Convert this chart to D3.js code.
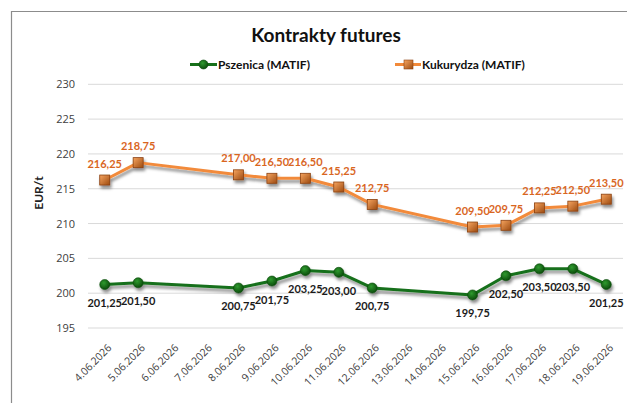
<!DOCTYPE html>
<html><head><meta charset="utf-8">
<script src="https://cdn.jsdelivr.net/npm/d3@7"></script>
<style>body{margin:0;background:#fff}svg{display:block}</style>
</head><body>
<svg id="c" width="627" height="403"></svg>
<script>
const dates = ["4.06.2026","5.06.2026","6.06.2026","7.06.2026","8.06.2026","9.06.2026","10.06.2026","11.06.2026","12.06.2026","13.06.2026","14.06.2026","15.06.2026","16.06.2026","17.06.2026","18.06.2026","19.06.2026"];
const tradeDates = ["4.06.2026","5.06.2026","8.06.2026","9.06.2026","10.06.2026","11.06.2026","12.06.2026","15.06.2026","16.06.2026","17.06.2026","18.06.2026","19.06.2026"];
const pszenica = [201.25,201.50,200.75,201.75,203.25,203.00,200.75,199.75,202.50,203.50,203.50,201.25];
const kukurydza = [216.25,218.75,217.00,216.50,216.50,215.25,212.75,209.50,209.75,212.25,212.50,213.50];
const yTicks = [195,200,205,210,215,220,225,230];
const seriesNames = ["Pszenica (MATIF)","Kukurydza (MATIF)"];

const svg = d3.select("#c");
const defs = svg.append("defs");
const f = defs.append("filter").attr("id","sh").attr("x","-10%").attr("y","-50%").attr("width","130%").attr("height","250%");
f.append("feDropShadow").attr("dx",1.5).attr("dy",3).attr("stdDeviation",1.6).attr("flood-color","#000").attr("flood-opacity",0.45);
const g1 = defs.append("linearGradient").attr("id","og").attr("x1",0).attr("y1",0).attr("x2",1).attr("y2",1);
g1.append("stop").attr("offset","0%").attr("stop-color","#f7a560");
g1.append("stop").attr("offset","100%").attr("stop-color","#9c4a10");
const g2 = defs.append("radialGradient").attr("id","gg").attr("cx","40%").attr("cy","35%").attr("r","65%");
g2.append("stop").attr("offset","0%").attr("stop-color","#2f9a2f");
g2.append("stop").attr("offset","100%").attr("stop-color","#0b4d0b");

// frame
svg.append("path").attr("d","M11.5,403 V11.5 H627").attr("fill","none").attr("stroke","#8c8c8c").attr("stroke-width",1.2);

const x = d3.scaleBand().domain(dates).range([88,623]);
const y = d3.scaleLinear().domain([195,230]).range([328,84.3]);
const cx = d => x(d) + x.bandwidth()/2;

// gridlines
svg.append("g").selectAll("line").data(yTicks).join("line")
  .attr("x1",88).attr("x2",623).attr("y1",d=>y(d)).attr("y2",d=>y(d))
  .attr("stroke","#d9d9d9").attr("stroke-width",1);

// y axis
const ya = svg.append("g").attr("transform","translate(88,0)")
  .call(d3.axisLeft(y).tickValues(yTicks).tickSize(0).tickPadding(13).tickFormat(d3.format("d")));
ya.select(".domain").remove();
ya.selectAll("text").attr("font-family","'Open Sans'").attr("font-size",11).attr("fill","#404040");

// x axis
const xa = svg.append("g").attr("transform","translate(0,336)")
  .call(d3.axisBottom(x).tickSize(0).tickPadding(0));
xa.select(".domain").remove();
xa.selectAll("text")
  .attr("font-family","'Open Sans'").attr("font-size",10.5).attr("fill","#404040")
  .attr("text-anchor","end").attr("y",0).attr("dy","0.35em")
  .attr("transform","translate(5,10) rotate(-45)");

// axis title
svg.append("text").attr("transform","translate(43,193) rotate(-90)").attr("text-anchor","middle")
  .attr("font-family","Lato").attr("font-weight","bold").attr("font-size",12).attr("fill","#222").text("EUR/t");

// title
svg.append("text").attr("x",326).attr("y",41.5).attr("text-anchor","middle")
  .attr("font-family","Lato").attr("font-weight","bold").attr("font-size",19).attr("fill","#111").text("Kontrakty futures");

const line = d3.line().x((d,i)=>cx(tradeDates[i])).y(d=>y(d));

function drawSeries(vals, color, markerType, labelColor, labelDy){
  const gg = svg.append("g").attr("filter","url(#sh)");
  gg.append("path").datum(vals).attr("d",line).attr("fill","none").attr("stroke",color).attr("stroke-width",3).attr("stroke-linejoin","round");
  if(markerType==="sq"){
    gg.selectAll("rect").data(vals).join("rect")
      .attr("x",(d,i)=>cx(tradeDates[i])-5).attr("y",d=>y(d)-5).attr("width",10).attr("height",10)
      .attr("fill","url(#og)").attr("stroke","#8a4010").attr("stroke-width",0.8);
  } else {
    gg.selectAll("circle").data(vals).join("circle")
      .attr("cx",(d,i)=>cx(tradeDates[i])).attr("cy",d=>y(d)).attr("r",5)
      .attr("fill","url(#gg)").attr("stroke","#0a4a0a").attr("stroke-width",0.6);
  }
  svg.append("g").selectAll("text").data(vals).join("text")
    .attr("x",(d,i)=>cx(tradeDates[i])).attr("y",d=>y(d)+labelDy).attr("text-anchor","middle")
    .attr("font-family","Lato").attr("font-weight","bold").attr("font-size",11).attr("fill",labelColor)
    .text(d=>d3.format(".2f")(d).replace(".",","));
}
drawSeries(kukurydza,"#f28a3a","sq","#d9661f",-12.5);
drawSeries(pszenica,"#17701a","ci","#1a1a1a",22.5);

// legend
const lg = svg.append("g");
lg.append("line").attr("x1",190).attr("x2",217).attr("y1",64.5).attr("y2",64.5).attr("stroke","#17701a").attr("stroke-width",3);
lg.append("circle").attr("cx",203.5).attr("cy",64.5).attr("r",4.5).attr("fill","url(#gg)").attr("stroke","#0a4a0a").attr("stroke-width",0.6);
lg.append("text").attr("x",218).attr("y",68.5).attr("font-family","Lato").attr("font-weight","bold").attr("font-size",12).attr("fill","#111").text(seriesNames[0]);
lg.append("line").attr("x1",395).attr("x2",421).attr("y1",64.5).attr("y2",64.5).attr("stroke","#f28a3a").attr("stroke-width",3);
lg.append("rect").attr("x",404).attr("y",60).attr("width",9).attr("height",9).attr("fill","url(#og)").attr("stroke","#8a4010").attr("stroke-width",0.6);
lg.append("text").attr("x",422).attr("y",68.5).attr("font-family","Lato").attr("font-weight","bold").attr("font-size",12).attr("fill","#111").text(seriesNames[1]);
</script>
</body></html>
